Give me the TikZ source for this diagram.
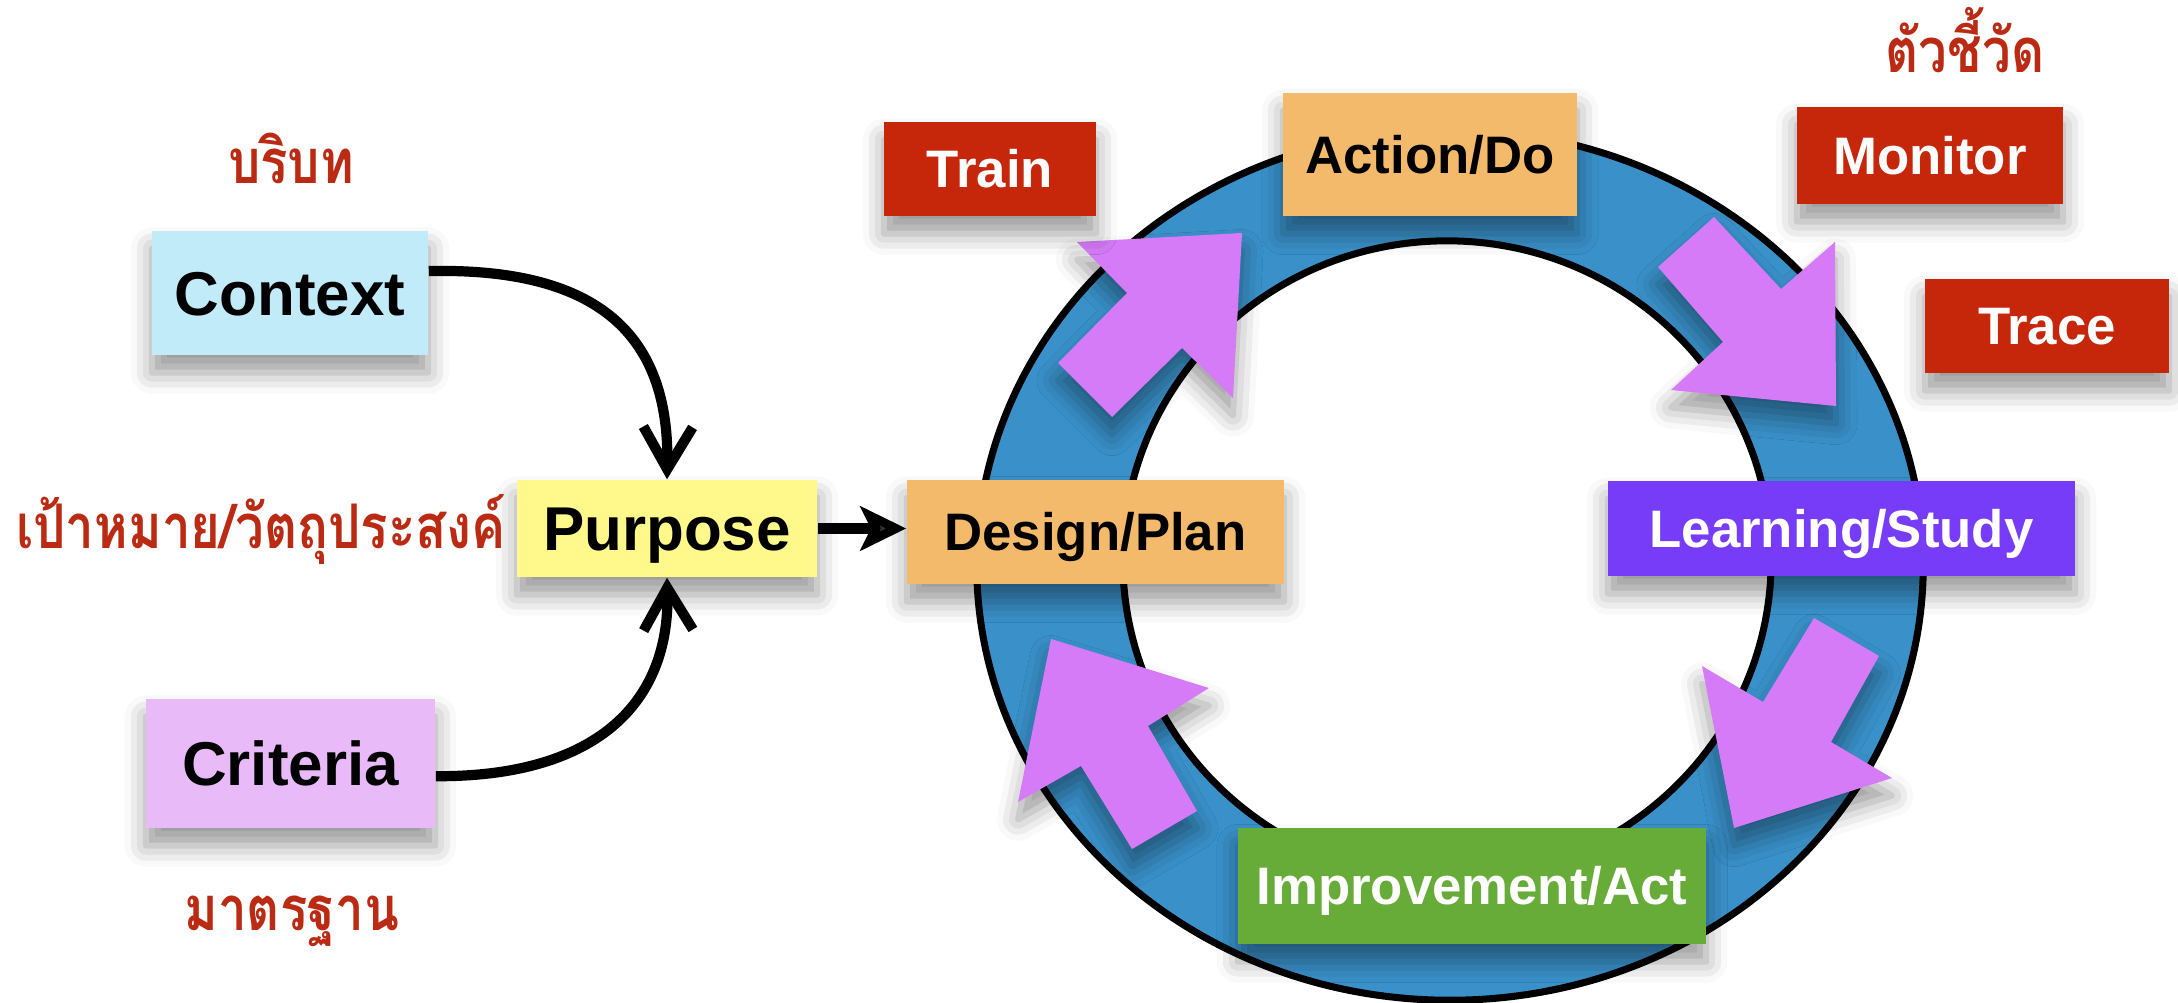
\documentclass[tikz,border=0pt]{standalone}
\usepackage{fontspec}
\setmainfont{Liberation Sans}
\newfontfamily\thaifont[Script=Thai]{Loma}
\usetikzlibrary{arrows.meta,shadows.blur}
\definecolor{ringblue}{HTML}{3A91CA}
\definecolor{pinkarr}{HTML}{D67BF8}
\definecolor{thaired}{HTML}{BB2A12}
\definecolor{boxred}{HTML}{C6260A}
\definecolor{ctxblue}{HTML}{C2EBFA}
\definecolor{purpyellow}{HTML}{FFF98C}
\definecolor{critlav}{HTML}{E8BAF8}
\definecolor{pdcaorange}{HTML}{F4BA6C}
\definecolor{studypurple}{HTML}{773CF7}
\definecolor{actgreen}{HTML}{67AC39}
\newcommand{\thaisq}[1]{\scalebox{0.83}[1]{#1}}
\begin{document}
\begin{tikzpicture}[x=0.01cm,y=-0.01cm,
  softshadow/.style={blur shadow={shadow xshift=0pt,shadow yshift=-5pt,shadow blur radius=6pt,shadow opacity=40}},
  box/.style={inner sep=0pt,softshadow,font=\bfseries\fontsize{15pt}{18pt}\selectfont,text height=10.8pt,text depth=0pt},
  bigbox/.style={box,font=\bfseries\fontsize{17.6pt}{20pt}\selectfont,text height=12.6pt},
  thailabel/.style={text=thaired,font=\thaifont\bfseries\fontsize{17.5pt}{20pt}\selectfont,inner sep=0pt,anchor=base},
  pinkarrow/.style={fill=pinkarr,softshadow},
  conn/.style={line width=2.9pt,-{Straight Barb[length=12pt,width=14pt]}},
  straightconn/.style={line width=3pt,-{Stealth[length=13pt,width=12.5pt,inset=3pt]}}
]
\useasboundingbox (0,0) rectangle (2178,1003);
% ring
\path[fill=ringblue,even odd rule] (1450,565) ellipse [x radius=4.73cm,y radius=4.35cm]
  (1447,560) ellipse [x radius=3.24cm,y radius=3.19cm];
\draw[line width=2pt] (1450,565) ellipse [x radius=4.73cm,y radius=4.35cm];
\draw[line width=2pt] (1447,560) ellipse [x radius=3.24cm,y radius=3.19cm];
% block arrows
\path[pinkarrow] (1058,363) -- (1127,293) -- (1077,242) -- (1242,233) -- (1233,398) -- (1182,348) -- (1112,417) -- cycle;
\path[pinkarrow] (1714,217) -- (1781,289) -- (1835,242) -- (1836,406) -- (1671,390) -- (1723,342) -- (1658,267) -- cycle;
\path[pinkarrow] (1814,618) -- (1763,702) -- (1702,666) -- (1734,828) -- (1892,778) -- (1831,742) -- (1879,656) -- cycle;
\path[pinkarrow] (1197,811) -- (1148,726) -- (1209,688) -- (1051,639) -- (1018,802) -- (1081,766) -- (1132,849) -- cycle;
% boxes
\node[bigbox,fill=ctxblue,minimum width=2.76cm,minimum height=1.24cm] (context) at (290,293) {Context};
\node[bigbox,fill=purpyellow,minimum width=3.00cm,minimum height=0.97cm] (purpose) at (667,528.5) {Purpose};
\node[bigbox,fill=critlav,minimum width=2.89cm,minimum height=1.29cm] (criteria) at (290.5,763.5) {Criteria};
\node[box,fill=pdcaorange,minimum width=3.77cm,minimum height=1.04cm] (design) at (1095.5,532) {Design/Plan};
\node[box,fill=pdcaorange,minimum width=2.94cm,minimum height=1.23cm] (action) at (1430,154.5) {Action/Do};
\node[box,fill=boxred,text=white,minimum width=2.12cm,minimum height=0.94cm] (train) at (990,169) {Train};
\node[box,fill=boxred,text=white,minimum width=2.66cm,minimum height=0.97cm] (monitor) at (1930,155.5) {Monitor};
\node[box,fill=boxred,text=white,minimum width=2.44cm,minimum height=0.94cm] (trace) at (2047,326) {Trace};
\node[box,fill=studypurple,text=white,minimum width=4.67cm,minimum height=0.95cm] (study) at (1841.5,528.5) {Learning/Study};
\node[box,fill=actgreen,text=white,minimum width=4.68cm,minimum height=1.16cm] (act) at (1472,886) {Improvement/Act};
% connectors
\draw[conn] (context.9.5) .. controls (580,268) and (670,320) .. (purpose.north);
\draw[conn] (criteria.-5.3) .. controls (600,777) and (670,700) .. (purpose.south);
\draw[straightconn] (purpose.east) -- (purpose.east -| design.west);
% Thai labels
\node[thailabel] (lctx) at (291,183) {\thaisq{บริบท}};
\node[thailabel] (lpurp) at (261,548) {\thaisq{เป้าหมาย/วัตถุประสงค์}};
\node[thailabel] (lcrit) at (292,930) {\thaisq{มาตรฐาน}};
\node[thailabel] (lind) at (1965,72) {\thaisq{ตัวชี้วัด}};
\end{tikzpicture}
\end{document}
